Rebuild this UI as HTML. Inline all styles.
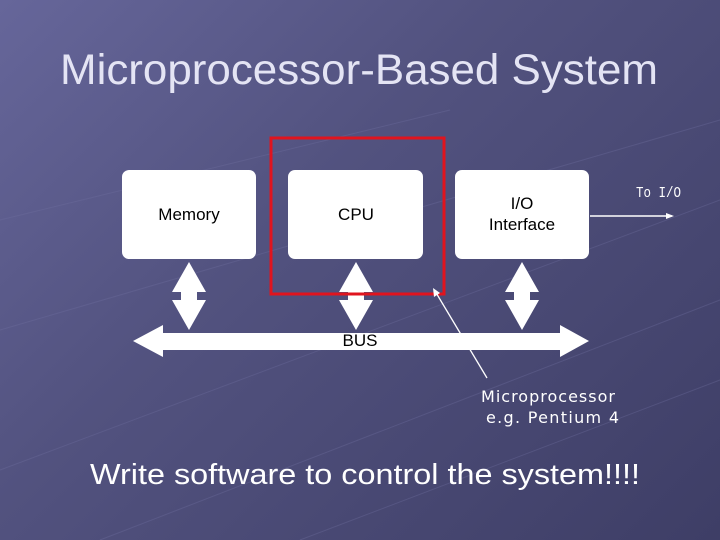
<!DOCTYPE html>
<html><head><style>
body{margin:0;width:720px;height:540px;overflow:hidden;background:linear-gradient(135deg,#66669a 0%,#52527f 40%,#3e3e66 100%);font-family:"Liberation Sans",sans-serif}
</style></head><body>
<svg width="720" height="540" xmlns="http://www.w3.org/2000/svg" style="position:absolute;left:0;top:0">
<g stroke="#7070a0" stroke-width="1" opacity="0.35">
<line x1="0" y1="470" x2="720" y2="200"/><line x1="100" y1="540" x2="720" y2="300"/><line x1="300" y1="540" x2="720" y2="380"/>
<line x1="0" y1="330" x2="720" y2="120"/><line x1="0" y1="220" x2="450" y2="110"/>
</g>
<text x="60" y="84" font-size="43" fill="#e4e4f4" font-family="Liberation Sans, sans-serif" textLength="598" lengthAdjust="spacingAndGlyphs">Microprocessor-Based System</text>
<rect x="122" y="170" width="134" height="89" rx="7" fill="#fff"/>
<rect x="288" y="170" width="135" height="89" rx="7" fill="#fff"/>
<rect x="455" y="170" width="134" height="89" rx="7" fill="#fff"/>
<text x="189" y="220" text-anchor="middle" font-size="17" fill="#000">Memory</text>
<text x="356" y="220" text-anchor="middle" font-size="17" fill="#000">CPU</text>
<text x="522" y="209" text-anchor="middle" font-size="17" fill="#000">I/O</text>
<text x="522" y="230" text-anchor="middle" font-size="17" fill="#000">Interface</text>
<g fill="#fff">
<polygon points="189,262 206,292 197,292 197,300 206,300 189,330 172,300 181,300 181,292 172,292"/>
<polygon points="356,262 373,292 364,292 364,300 373,300 356,330 339,300 348,300 348,292 339,292"/>
<polygon points="522,262 539,292 530,292 530,300 539,300 522,330 505,300 514,300 514,292 505,292"/>
<polygon points="133,341 163,325 163,333 560,333 560,325 589,341 560,357 560,350 163,350 163,357"/>
</g>
<text x="360" y="346" text-anchor="middle" font-size="17" fill="#000">BUS</text>
<line x1="590" y1="216" x2="672" y2="216" stroke="#fff" stroke-width="1.5"/>
<polygon points="674,216 666,213 666,219" fill="#fff"/>
<text x="636" y="197" font-size="15" fill="#fff" font-family="Liberation Mono, monospace" textLength="45" lengthAdjust="spacingAndGlyphs">To I/O</text>
<rect x="271" y="138" width="173" height="156" fill="none" stroke="#e0141e" stroke-width="3"/>
<line x1="435" y1="291" x2="487" y2="378" stroke="#fff" stroke-width="1.3"/>
<polygon points="433,288 434,297 440,293" fill="#fff"/>
<text x="481" y="402" font-size="16" fill="#fff" font-family="DejaVu Sans" textLength="134">Microprocessor</text>
<text x="486" y="423" font-size="16" fill="#fff" font-family="DejaVu Sans" textLength="133">e.g. Pentium 4</text>
<text x="90" y="484" font-size="29" fill="#fff" textLength="550" lengthAdjust="spacingAndGlyphs">Write software to control the system!!!!</text>
</svg>
</body></html>
